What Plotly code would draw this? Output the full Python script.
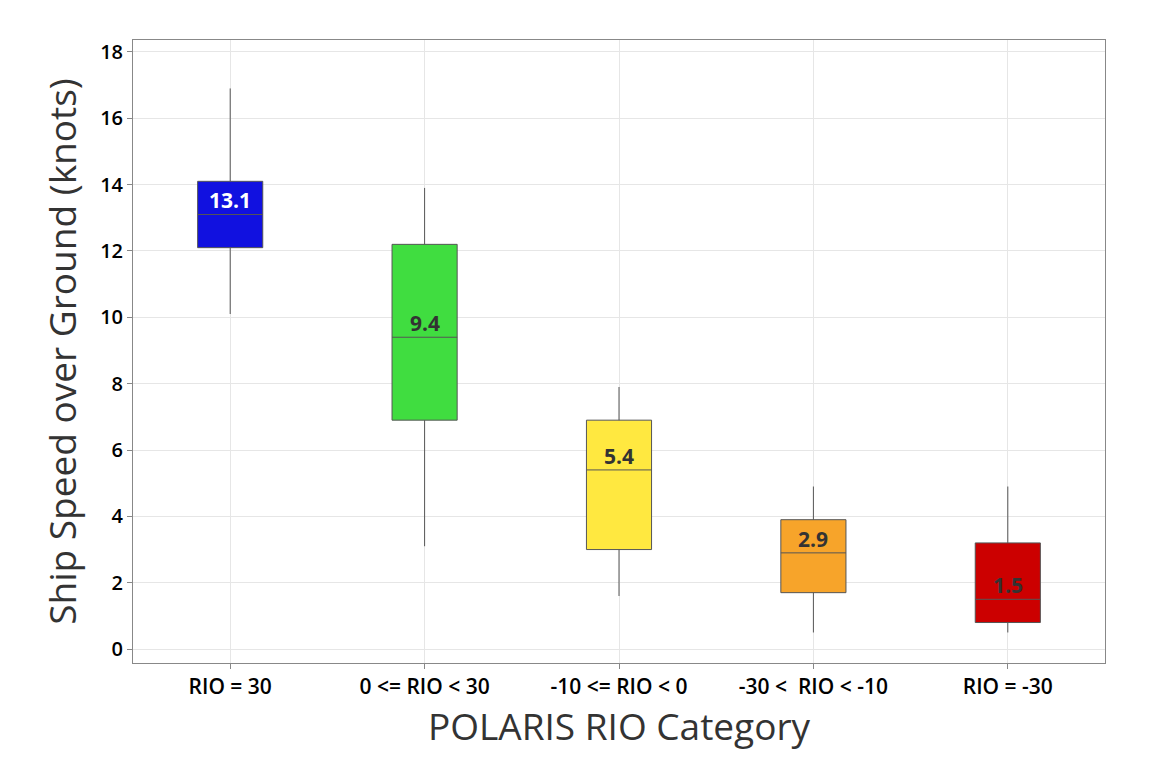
import plotly.graph_objects as go

categories = ["RIO = 30", "0 <= RIO < 30", "-10 <= RIO < 0", "-30 <\u00a0 RIO < -10", "RIO = -30"]
lower_whisker = [10.1, 3.1, 1.6, 0.5, 0.5]
q1 = [12.1, 6.9, 3.0, 1.7, 0.8]
median = [13.1, 9.4, 5.4, 2.9, 1.5]
q3 = [14.1, 12.2, 6.9, 3.9, 3.2]
upper_whisker = [16.9, 13.9, 7.9, 4.9, 4.9]
median_labels = ["13.1", "9.4", "5.4", "2.9", "1.5"]
colors = ["#1111E0", "#40DD40", "#FFE840", "#F7A42A", "#CC0000"]
label_colors = ["#FFFFFF", "#333333", "#333333", "#333333", "#333333"]

fig = go.Figure()
for i, cat in enumerate(categories):
    fig.add_trace(go.Box(
        x=[cat], q1=[q1[i]], median=[median[i]], q3=[q3[i]],
        lowerfence=[lower_whisker[i]], upperfence=[upper_whisker[i]],
        fillcolor=colors[i], line=dict(color="#555555", width=1),
        whiskerwidth=0, width=0.335, boxpoints=False, showlegend=False,
        hoverinfo="skip",
    ))
    fig.add_annotation(
        x=cat, y=median[i], text="<b>%s</b>" % median_labels[i],
        showarrow=False, yanchor="bottom", yshift=-2,
        font=dict(size=21, color=label_colors[i], family="Open Sans"),
    )

fig.update_layout(
    width=1147, height=761,
    paper_bgcolor="white", plot_bgcolor="white",
    margin=dict(l=125, r=50, t=32, b=106),
    font=dict(family="Open Sans", color="#111111"),
    boxmode="overlay",
)
fig.update_xaxes(
    categoryorder="array", categoryarray=categories, range=[-0.5, 4.5],
    showline=True, mirror=True, linecolor="#888888", linewidth=1,
    showgrid=True, gridcolor="#E6E6E6",
    ticks="outside", ticklen=5, tickcolor="#888888",
    tickfont=dict(size=21, color="#000000", weight=600),
    title=dict(text="POLARIS RIO Category", font=dict(size=37, color="#333333"), standoff=12),
)
fig.update_yaxes(
    range=[-0.42, 18.36], dtick=2, tick0=0,
    showline=True, mirror=True, linecolor="#888888", linewidth=1,
    showgrid=True, gridcolor="#E6E6E6", zeroline=False,
    ticks="outside", ticklen=5, tickcolor="#888888",
    tickfont=dict(size=20, color="#000000", weight=600),
    title=dict(text="Ship Speed over Ground (knots)", font=dict(size=37, color="#333333"), standoff=12),
)

fig.write_html("out.html")
